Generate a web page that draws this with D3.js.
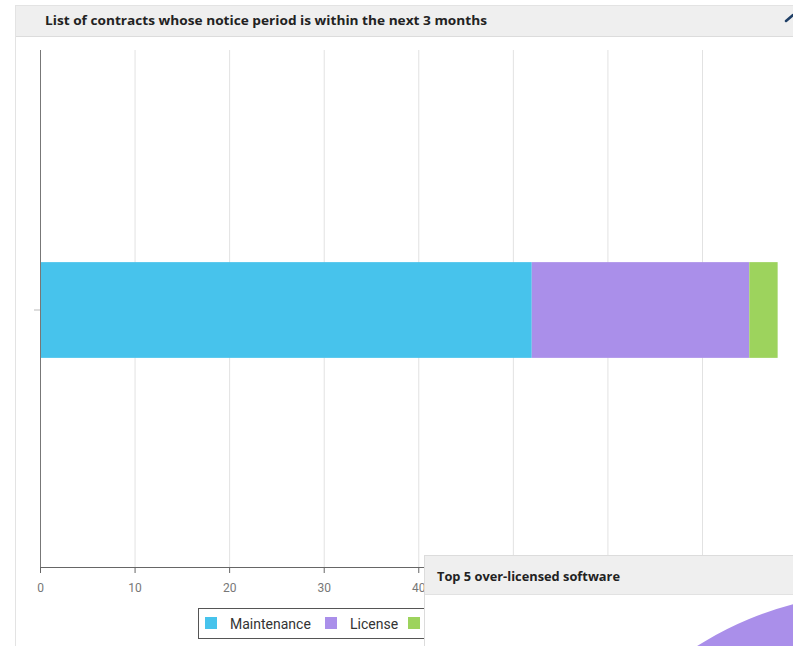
<!DOCTYPE html>
<html><head><meta charset="utf-8">
<script src="https://cdn.jsdelivr.net/npm/d3@7/dist/d3.min.js"></script>
<style>
html,body{margin:0;padding:0;background:#fff;}
svg{display:block;}
</style></head>
<body>
<svg id="c" width="793" height="646"></svg>
<script>
// ---- data ----
const categories = ["Contracts"];
const seriesNames = ["Maintenance", "License", "Other"];
const maintenanceValues = [52];
const licenseValues = [23];
const otherValues = [3];
const xTickValues = [0, 10, 20, 30, 40, 50, 60, 70];
const xTickLabels = ["0", "10", "20", "30", "40", "", "", ""];
const seriesColors = ["#47c3ec", "#aa8fea", "#9dd35d"];
const mainTitle = "List of contracts whose notice period is within the next 3 months";
const overlayTitle = "Top 5 over-licensed software";
const overlayPieValues = [1];

// ---- build ----
const svg = d3.select("#c");

// outer panel
svg.append("rect").attr("x", 15.5).attr("y", 5.5).attr("width", 800).attr("height", 660)
  .attr("fill", "#fff").attr("stroke", "#e3e3e3");
svg.append("rect").attr("x", 16).attr("y", 6).attr("width", 800).attr("height", 30)
  .attr("fill", "#efefef");
svg.append("line").attr("x1", 16).attr("x2", 800).attr("y1", 36.5).attr("y2", 36.5)
  .attr("stroke", "#dcdcdc");
svg.append("text").attr("x", 45).attr("y", 25).text(mainTitle)
  .attr("font-family", "Open Sans, sans-serif").attr("font-weight", "bold")
  .attr("font-size", 12.5).attr("fill", "#222")
  .attr("textLength", 442).attr("lengthAdjust", "spacingAndGlyphs");
// edit icon
svg.append("line").attr("x1", 786).attr("y1", 21).attr("x2", 793).attr("y2", 15)
  .attr("stroke", "#1f3f66").attr("stroke-width", 2.5).attr("stroke-linecap", "round");

// table for stacking
const table = categories.map((c, i) => ({
  cat: c, Maintenance: maintenanceValues[i], License: licenseValues[i], Other: otherValues[i]
}));
const stack = d3.stack().keys(seriesNames)(table);

const x = d3.scaleLinear().domain([0, 80]).range([40, 40 + 80 * 9.457]);
const y = d3.scaleBand().domain(categories).range([52, 568]).paddingInner(0.687).paddingOuter(0.687);
const color = d3.scaleOrdinal().domain(seriesNames).range(seriesColors);

// gridlines
svg.append("g").selectAll("line").data(xTickValues.slice(1)).join("line")
  .attr("x1", d => x(d) + 0.5).attr("x2", d => x(d) + 0.5)
  .attr("y1", 50).attr("y2", 567).attr("stroke", "#e2e2e2");

// bars
svg.append("g").selectAll("g").data(stack).join("g")
  .attr("fill", d => color(d.key))
  .selectAll("rect").data(d => d).join("rect")
  .attr("x", d => x(d[0])).attr("width", d => x(d[1]) - x(d[0]))
  .attr("y", d => y(d.data.cat)).attr("height", y.bandwidth());

// x axis
const xAxis = svg.append("g").attr("transform", "translate(0,567)")
  .call(d3.axisBottom(x).tickValues(xTickValues).tickSize(6).tickSizeOuter(0)
    .tickFormat((d, i) => xTickLabels[i]));
xAxis.select(".domain").attr("stroke", "#666").attr("d", `M${x(0)},0.5H${x(80)}`);
xAxis.selectAll(".tick line").attr("stroke", "#666");
xAxis.selectAll(".tick text").attr("fill", "#777").attr("font-size", 12)
  .attr("font-family", "Roboto, sans-serif").attr("dy", "1.35em");

// y axis
const yAxis = svg.append("g").attr("transform", "translate(40,0)")
  .call(d3.axisLeft(y).tickSize(6).tickSizeOuter(0).tickFormat(""));
yAxis.select(".domain").attr("stroke", "#777").attr("d", "M0.5,50V567");
yAxis.selectAll(".tick line").attr("stroke", "#bbb");

// legend
const lg = svg.append("g").attr("transform", "translate(198,608)");
lg.append("rect").attr("x", 0.5).attr("y", 0.5).attr("width", 260).attr("height", 30)
  .attr("fill", "#fff").attr("stroke", "#555");
const legendX = [7, 127, 210];
seriesNames.forEach((s, i) => {
  lg.append("rect").attr("x", legendX[i]).attr("y", 9).attr("width", 12).attr("height", 12)
    .attr("fill", color(s));
  lg.append("text").attr("x", legendX[i] + 25).attr("y", 20.5).text(s)
    .attr("font-family", "Roboto, sans-serif").attr("font-size", 14).attr("fill", "#333");
});

// overlay panel
const ov = svg.append("g");
ov.append("rect").attr("x", 424.5).attr("y", 555.5).attr("width", 400).attr("height", 120)
  .attr("fill", "#fff").attr("stroke", "#dcdcdc");
ov.append("rect").attr("x", 425).attr("y", 556).attr("width", 400).attr("height", 38)
  .attr("fill", "#efefef");
ov.append("line").attr("x1", 425).attr("x2", 800).attr("y1", 594.5).attr("y2", 594.5).attr("stroke", "#e2e2e2");
ov.append("text").attr("x", 437).attr("y", 581).text(overlayTitle)
  .attr("font-family", "Open Sans, sans-serif").attr("font-weight", "bold")
  .attr("font-size", 12.5).attr("fill", "#222")
  .attr("textLength", 183).attr("lengthAdjust", "spacingAndGlyphs");
const clip = svg.append("clipPath").attr("id", "ovclip");
clip.append("rect").attr("x", 425).attr("y", 595).attr("width", 400).attr("height", 60);
const pie = d3.pie().sort(null).startAngle(-Math.PI / 2).endAngle(Math.PI / 4)(overlayPieValues);
const arc = d3.arc().innerRadius(0).outerRadius(342);
ov.append("g").attr("clip-path", "url(#ovclip)")
  .append("g").attr("transform", "translate(880,935)")
  .selectAll("path").data(pie).join("path").attr("d", arc).attr("fill", "#aa8fea");
</script>
</body></html>
